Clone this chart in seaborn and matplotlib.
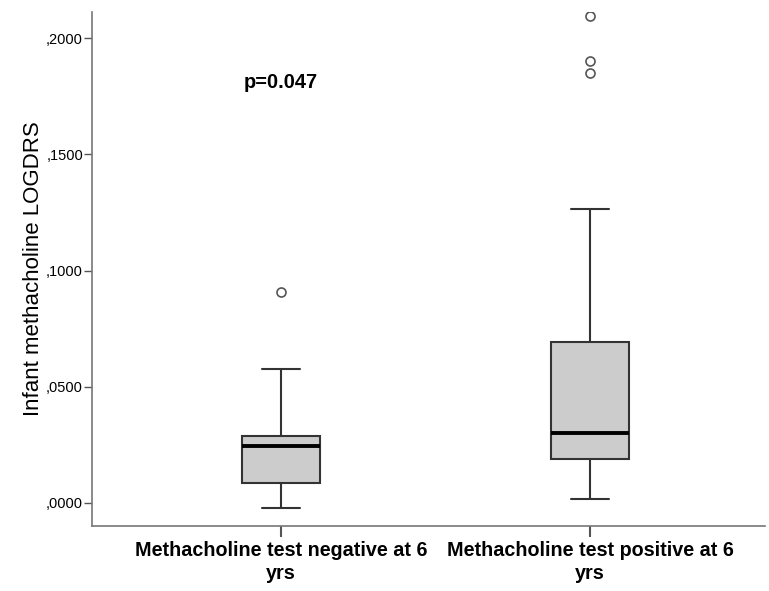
import pandas as pd
import seaborn as sns
import matplotlib
matplotlib.use('Agg')
import matplotlib.pyplot as plt
from matplotlib.ticker import FuncFormatter

# groups and values (estimated so that quartiles / whiskers / outliers match the picture)
groups = ["Methacholine test negative at 6\nyrs", "Methacholine test positive at 6\nyrs"]
neg_values = [-0.0022, 0.0040, 0.0086, 0.0180, 0.0245, 0.0270, 0.0288, 0.0576, 0.0908]
pos_values = [0.0017, 0.0060, 0.0110, 0.0150, 0.0189, 0.0220, 0.0250, 0.0280, 0.0301,
              0.0380, 0.0480, 0.0580, 0.0692, 0.1265, 0.1850, 0.1900, 0.2095]
yticks = [0.0, 0.05, 0.10, 0.15, 0.20]
p_text = "p=0.047"

df = pd.DataFrame({
    "group": [groups[0]] * len(neg_values) + [groups[1]] * len(pos_values),
    "logdrs": neg_values + pos_values,
})

sns.set_style("white")
plt.rcParams['font.family'] = ['Liberation Sans', 'DejaVu Sans']
plt.rcParams['text.color'] = 'black'
plt.rcParams['axes.labelcolor'] = 'black'
plt.rcParams['xtick.color'] = 'black'
plt.rcParams['ytick.color'] = 'black'

fig = plt.figure(figsize=(7.69, 5.91), dpi=100)
ax = fig.add_axes([0.1196, 0.110, 0.8752, 0.8697])

sns.boxplot(data=df, x="group", y="logdrs", order=groups, ax=ax,
            color="#cccccc", saturation=1, width=0.25, linecolor="#333333", linewidth=1.5,
            medianprops=dict(color="black", linewidth=2.8),
            flierprops=dict(marker="o", markerfacecolor="white", markeredgecolor="#555555",
                            markersize=6.5, markeredgewidth=1.2))

ax.set_xlim(-0.612, 1.566)
ax.set_ylim(-0.0099, 0.2112)
ax.set_yticks(yticks)
ax.yaxis.set_major_formatter(FuncFormatter(lambda v, pos: f"{v:.4f}".replace("0.", ",", 1)))

for s in ["top", "right"]:
    ax.spines[s].set_visible(False)
for s in ["left", "bottom"]:
    ax.spines[s].set_color("#777777")
    ax.spines[s].set_linewidth(1.2)

ax.tick_params(axis="y", left=True, length=6, width=1, color="#555555", labelsize=10.5, pad=0.5)
ax.tick_params(axis="x", bottom=True, length=8, width=1.5, color="#555555", labelsize=14.2, pad=3)
for lab in ax.get_xticklabels():
    lab.set_fontweight("bold")
    lab.set_linespacing(1.25)

ax.set_xlabel("")
ax.set_ylabel("Infant methacholine LOGDRS", fontsize=16, labelpad=1.5)
ax.text(0, 0.181, p_text, ha="center", va="center", fontsize=14.4, fontweight="bold")

fig.savefig("out.png", dpi=100)
plt.close(fig)
